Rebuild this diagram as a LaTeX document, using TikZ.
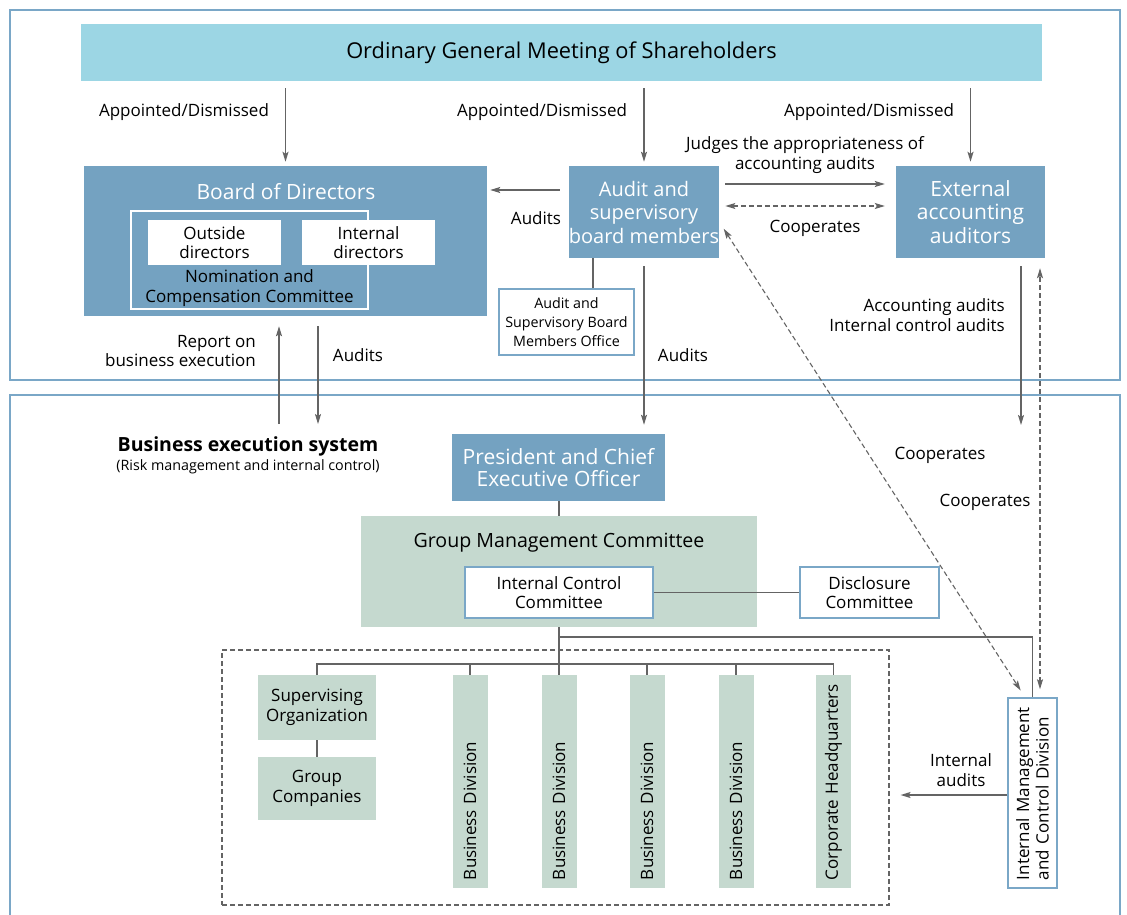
\documentclass[tikz,border=0pt]{standalone}
\usepackage{fontspec}
\setmainfont{Open Sans}
\usetikzlibrary{positioning, arrows.meta}
\definecolor{sky}{RGB}{156, 214, 228}
\definecolor{steel}{RGB}{116, 162, 193}
\definecolor{sage}{RGB}{197, 217, 207}
\definecolor{frame}{RGB}{122, 167, 199}
\definecolor{wire}{RGB}{100, 100, 100}

\begin{document}
\begin{tikzpicture}[x=1pt, y=-1pt, >={Stealth[length=10pt, width=6pt, inset=2pt]},
    every node/.style={inner sep=0pt, align=center, font=\fontsize{17}{19.5}\selectfont},
    dark/.style={fill=steel, text=white, font=\fontsize{20}{23.5}\selectfont},
    pale/.style={fill=sage},
    wbox/.style={draw=frame, fill=white, line width=1.5pt},
    line/.style={draw=wire, line width=1.4pt},
    dashline/.style={draw=wire, line width=1.1pt, dash pattern=on 5pt off 3pt}]
    \useasboundingbox (0,0) rectangle (1127,915);
    \draw[frame, line width=1.2pt] (10,10) rectangle (1120,380);
    \draw[frame, line width=1.2pt] (10,920) -- (10,395) -- (1120,395) -- (1120,920);

    \node[fill=sky, minimum width=961pt, minimum height=57pt, font=\fontsize{21.8}{24}\selectfont] (gms) at (561.5,52.5) {Ordinary General Meeting of Shareholders};

    \node[dark, minimum width=403pt, minimum height=150pt] (board) at (285.5,241) {};
    \node[text=white, font=\fontsize{21}{23}\selectfont] (boardtitle) at (286,192) {Board of Directors};
    \node[draw=white, line width=1.8pt, minimum width=237pt, minimum height=98pt] (ncc) at (249.5,260) {};
    \node[fill=white, minimum width=133pt, minimum height=45pt] (outside) at (214.5,242.5) {Outside\\directors};
    \node[fill=white, minimum width=133pt, minimum height=45pt] (internal) at (368.5,242.5) {Internal\\directors};
    \node (ncctext) at (249.5,288) {Nomination and\\Compensation Committee};

    \node[dark, minimum width=148pt, minimum height=92pt] (audit) at (644,212) {Audit and\\supervisory\\board members};
    \node[dark, minimum width=149pt, minimum height=92pt, font=\fontsize{21}{23.5}\selectfont] (ext) at (970.5,212) {External\\accounting\\auditors};
    \node[wbox, minimum width=135pt, minimum height=66pt, font=\fontsize{14.3}{19}\selectfont] (office) at (566.5,322) {Audit and\\Supervisory Board\\Members Office};

    \node (ad1) at (184,112) {Appointed/Dismissed};
    \node (ad2) at (542,112) {Appointed/Dismissed};
    \node (ad3) at (869,112) {Appointed/Dismissed};
    \draw[line, ->, shorten <=7pt, shorten >=4pt] (board.north |- gms.south) -- (board.north);
    \draw[line, ->, shorten <=7pt, shorten >=4pt] (audit.north |- gms.south) -- (audit.north);
    \draw[line, ->, shorten <=7pt, shorten >=4pt] (ext.north |- gms.south) -- (ext.north);

    \draw[line, ->, shorten <=9pt, shorten >=3pt] (audit.west |- 0,190) -- (board.east |- 0,190);
    \node (audits1) at (536,218) {Audits};
    \draw[line, ->, shorten <=6pt, shorten >=11pt] (audit.east |- 0,184) -- (ext.west |- 0,184);
    \node (judges) at (805,155) {Judges the appropriateness of\\accounting audits};
    \draw[dashline, <->, shorten <=6pt, shorten >=11pt] (audit.east |- 0,206) -- (ext.west |- 0,206);
    \node (coop1) at (815,228) {Cooperates};
    \draw[line] (office.north -| 593,0) -- (audit.south -| 593,0);

    \node[font=\bfseries\fontsize{19.5}{22}\selectfont] (bes) at (248,446) {Business execution system};
    \node[font=\fontsize{14.3}{16}\selectfont] (besnote) at (248,467) {(Risk management and internal control)};
    \draw[line, ->, shorten <=12pt, shorten >=10pt] (bes.north -| 279,0) -- (board.south -| 279,0);
    \draw[line, ->, shorten <=10pt, shorten >=12pt] (board.south -| 318,0) -- (bes.north -| 318,0);
    \node[anchor=east, align=right] (report) at (256,351) {Report on\\business execution};
    \node (audits2) at (358,355) {Audits};

    \node[dark, minimum width=213pt, minimum height=67pt, font=\fontsize{21}{22}\selectfont] (ceo) at (558.5,467.5) {President and Chief\\Executive Officer};
    \draw[line, ->, shorten <=8pt, shorten >=9pt] (audit.south) -- (ceo.north -| audit.south);
    \node (audits3) at (683,355) {Audits};

    \node[pale, minimum width=396pt, minimum height=111pt] (gmc) at (559,571.5) {};
    \node[font=\fontsize{19.6}{22}\selectfont] (gmctitle) at (559,543) {Group Management Committee};
    \node[wbox, minimum width=188pt, minimum height=51pt] (icc) at (559,592.5) {Internal Control\\Committee};
    \node[wbox, minimum width=139pt, minimum height=51pt] (disc) at (869.5,592.5) {Disclosure\\Committee};
    \draw[line] (ceo.south -| gmc.north) -- (gmc.north);
    \draw[line] (icc.east) -- (disc.west);

    \node[dashline, draw, minimum width=667pt, minimum height=255pt] (unit) at (555.5,777.5) {};
    \node[pale, minimum width=118pt, minimum height=65pt] (suporg) at (317,707.5) {Supervising\\Organization};
    \node[pale, minimum width=118pt, minimum height=63pt] (grpco) at (317,788.5) {Group\\Companies};
    \foreach \x/\n in {470/bd1, 559/bd2, 647/bd3, 736/bd4}
        \node[pale, rotate=90, minimum width=213pt, minimum height=35pt, text width=197pt, align=left] (\n) at (\x,781.5) {Business Division};
    \node[pale, rotate=90, minimum width=213pt, minimum height=35pt, text width=197pt, align=left] (hq) at (833.5,781.5) {Corporate Headquarters};
    \draw[line] (suporg.south) -- (grpco.north);
    \draw[line] (suporg.north) -- ++(0,-11) -| (hq.east);
    \foreach \n in {bd1, bd2, bd3, bd4}
        \draw[line] (\n.east) -- ++(0,-11);
    \draw[line] (gmc.south) -- (gmc.south |- 0,664);

    \node[wbox, rotate=90, minimum width=190pt, minimum height=49pt, text width=174pt, align=left] (imc) at (1032.5,793) {Internal Management\\and Control Division};
    \draw[line] (gmc.south |- 0,637) -| (imc.east);
    \draw[line, ->, shorten >=11pt] (imc.north |- 0,795) -- (unit.east |- 0,795);
    \node (intaudits) at (961,770) {Internal\\audits};

    \coordinate (extend) at (1021,425);
    \draw[line, ->, shorten <=8pt] (ext.south -| extend) -- (extend);
    \node[anchor=east, align=right] (acctaudits) at (1005,315) {Accounting audits\\Internal control audits};
    \draw[dashline, <->, shorten <=8pt, shorten >=10pt] (imc.east -| 1040,0) -- (ext.south -| 1040,0);
    \draw[dashline, <->, shorten <=8pt, shorten >=8pt] (audit.east |- 0,222) -- (imc.east -| 1025,0);
    \node (coop2) at (940,455) {Cooperates};
    \node (coop3) at (985,502) {Cooperates};
\end{tikzpicture}
\end{document}
